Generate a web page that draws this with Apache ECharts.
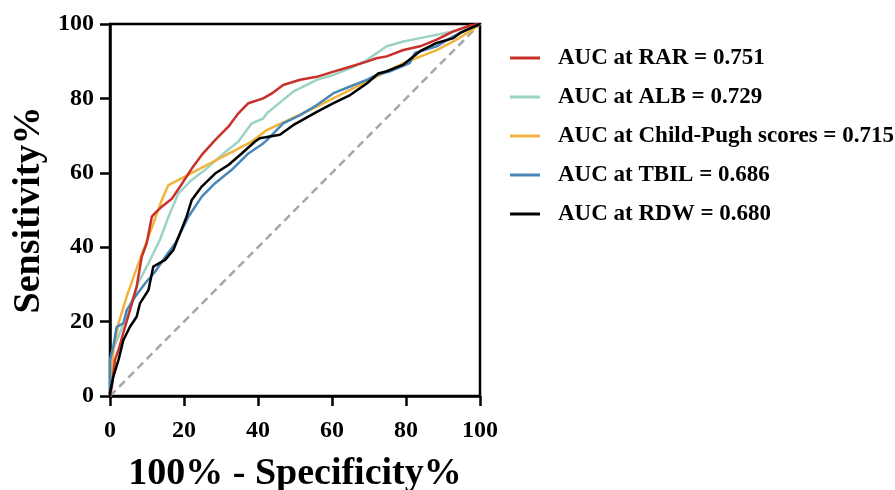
<!DOCTYPE html>
<html>
<head>
<meta charset="utf-8">
<script src="https://cdn.jsdelivr.net/npm/echarts@6/dist/echarts.min.js"></script>
<style>
  html, body { margin: 0; padding: 0; background: #fff; }
  #chart { width: 895px; height: 490px; }
</style>
</head>
<body>
<div id="chart"></div>
<script>
// ROC points: [100% - specificity, sensitivity]
const rar = [[0,0],[0.5,2.5],[1.35,9.7],[2.5,13],[3.6,17],[5.4,23],[7.2,29.4],[8.6,37.5],[9.9,41],[11.3,48.2],[12.5,49.5],[14,50.9],[16.7,53],[19.4,57],[22,61],[24.8,64.8],[28.4,68.8],[32,72.4],[34.7,76],[37.4,78.7],[41.4,80],[44,81.5],[46.8,83.6],[51.4,85],[55.9,85.8],[60.4,87.2],[64.9,88.5],[69.4,89.9],[72,90.8],[74.8,91.3],[79.3,93],[83.8,94],[88.3,95.8],[92.8,98],[97.3,99.6],[100,100]]
const alb = [[0,0],[0,8],[1,13],[2.3,16],[5,23],[7.6,30.3],[10.4,35.7],[13.5,42],[15.8,48.2],[18.5,54.5],[22,58],[25.7,60.8],[30.2,64.8],[34.7,68.4],[38.3,73.3],[41.4,74.6],[42.4,76],[46.8,79.6],[49.5,81.8],[55.9,85],[60.4,86.3],[64.9,88.1],[69.4,90.3],[72,92.1],[74.8,94],[79.3,95.3],[83.8,96.2],[88.3,97.1],[92.8,98],[97,99.3],[100,100]]
const childPugh = [[0,0],[0.3,4.3],[0.9,12.4],[2.3,19.5],[4.5,26.7],[7.7,35.7],[10.4,42.8],[14,52.7],[15.8,56.7],[38.3,68.4],[42.4,71.5],[55.9,77.8],[70.3,85],[79.3,89.5],[88.3,93],[92.8,95.3],[97.3,98],[100,100]]
const tbil = [[0,0],[0,9.7],[0.9,13.3],[1.8,18.6],[3.6,19.5],[4.5,23],[6.8,26.7],[9.5,30.3],[12.2,33.4],[15.3,37.9],[17.6,41],[19.4,44.6],[21.2,48.2],[24.8,53.6],[28.4,57.2],[32.9,60.8],[37.4,65.2],[41.4,67.9],[42.4,68.8],[46.8,73.3],[51.4,75.5],[55.9,78.2],[60.4,81.4],[64.9,83.2],[69.4,85],[72,86.3],[75.7,87.3],[81,89.5],[82.4,92.2],[88.3,94],[92.8,96.7],[97.3,98.8],[100,100]]
const rdw = [[0,0],[0,0.8],[0.9,5.2],[2.3,9.7],[3.6,15],[5.4,18.6],[7.2,21.3],[8.1,24.9],[10.4,28.5],[11.7,34.8],[14.9,36.6],[17.1,39.2],[18.9,43.7],[20.7,48.2],[22.1,52.7],[24.8,56.3],[28.4,59.8],[32,62.1],[35.6,65.2],[39.2,68.4],[40.5,69.3],[45.9,70.2],[49.5,72.8],[55.9,76.4],[60.4,78.7],[64.9,80.9],[69.4,84],[72.5,86.7],[74.8,87.3],[79.3,89.1],[83.8,92.7],[88.3,94.9],[92.8,96.2],[94.6,97.6],[97.3,98.8],[100,100]]
const diagonal = [[0,0],[100,100]]

const names = [
  'AUC at RAR = 0.751',
  'AUC at ALB = 0.729',
  'AUC at Child-Pugh scores = 0.715',
  'AUC at TBIL = 0.686',
  'AUC at RDW = 0.680'
]

const font = 'Liberation Serif'
const chart = echarts.init(document.getElementById('chart'))

const curve = (name, data, color) => ({
  name,
  type: 'line',
  data,
  showSymbol: false,
  symbol: 'none',
  itemStyle: { color },
  lineStyle: { color, width: 2.5 },
  z: 3
})

chart.setOption({
  animation: false,
  grid: {
    left: 110, right: 415, top: 24, bottom: 94,
    containLabel: false,
    outerBoundsMode: 'none',
    show: true, borderColor: '#000', borderWidth: 2.5
  },
  legend: {
    orient: 'vertical',
    left: 505,
    top: 41,
    data: names,
    icon: 'rect',
    itemWidth: 30,
    itemHeight: 3,
    itemGap: 15,
    textStyle: {
      fontFamily: font, fontWeight: 'bold', fontSize: 23, color: '#000',
      lineHeight: 24, padding: [0, 0, 0, 13]
    }
  },
  xAxis: {
    type: 'value',
    min: 0, max: 100, interval: 20,
    name: '100% - Specificity%',
    nameLocation: 'middle',
    nameGap: 59,
    nameTextStyle: { fontFamily: font, fontWeight: 'bold', fontSize: 38, color: '#000' },
    axisLine: { show: true, lineStyle: { color: '#000', width: 2.5 } },
    axisTick: { show: true, length: 10, lineStyle: { color: '#000', width: 2.5 } },
    axisLabel: { margin: 23, fontFamily: font, fontWeight: 'bold', fontSize: 24, color: '#000' },
    splitLine: { show: false }
  },
  yAxis: {
    type: 'value',
    min: 0, max: 100, interval: 20,
    name: 'Sensitivity%',
    nameLocation: 'middle',
    nameGap: 62,
    nameTextStyle: { fontFamily: font, fontWeight: 'bold', fontSize: 38, color: '#000' },
    axisLine: { show: true, lineStyle: { color: '#000', width: 2.5 } },
    axisTick: { show: true, length: 10, lineStyle: { color: '#000', width: 2.5 } },
    axisLabel: { margin: 16, fontFamily: font, fontWeight: 'bold', fontSize: 24, color: '#000' },
    splitLine: { show: false }
  },
  series: [
    {
      name: 'ref',
      type: 'line',
      data: diagonal,
      symbol: 'none',
      lineStyle: { color: '#a6a6a6', width: 2.5, type: [8, 5] },
      z: 2
    },
    curve(names[1], alb, '#9dd3c5'),
    curve(names[2], childPugh, '#f0b43c'),
    curve(names[3], tbil, '#4a86b8'),
    curve(names[0], rar, '#c8302a'),
    curve(names[4], rdw, '#000000')
  ]
})
</script>
</body>
</html>
